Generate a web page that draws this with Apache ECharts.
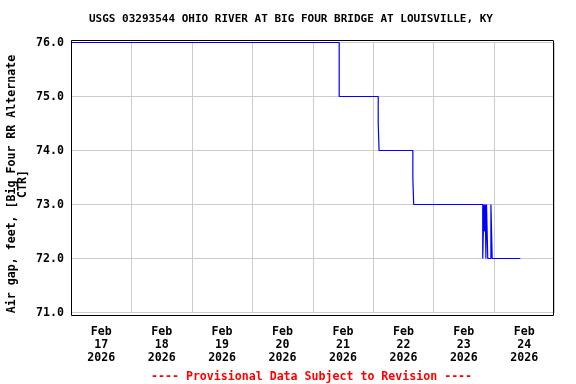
<!DOCTYPE html>
<html>
<head>
<meta charset="utf-8">
<script src="https://cdn.jsdelivr.net/npm/echarts@6/dist/echarts.min.js"></script>
<style>
  html, body { margin: 0; padding: 0; background: #ffffff; }
  #chart { width: 576px; height: 384px; }
</style>
</head>
<body>
<div id="chart"></div>
<script>
// ---- data ----
const titleText = 'USGS 03293544 OHIO RIVER AT BIG FOUR BRIDGE AT LOUISVILLE, KY';
const yAxisTitle = 'Air gap, feet, [Big Four RR Alternate\nCTR]';
const footerText = '---- Provisional Data Subject to Revision ----';

// time of each reading (UTC) and the value that holds from then on
const times = [
  '2026-02-17T00:00:00Z',
  '2026-02-21T10:30:00Z',
  '2026-02-22T02:00:00Z',
  '2026-02-22T02:20:00Z',
  '2026-02-22T15:45:00Z',
  '2026-02-22T16:05:00Z',
  '2026-02-23T19:30:00Z',
  '2026-02-23T19:45:00Z',
  '2026-02-23T20:00:00Z',
  '2026-02-23T20:15:00Z',
  '2026-02-23T20:30:00Z',
  '2026-02-23T20:45:00Z',
  '2026-02-23T21:00:00Z',
  '2026-02-23T21:30:00Z',
  '2026-02-23T22:45:00Z',
  '2026-02-23T23:00:00Z',
  '2026-02-23T23:15:00Z',
  '2026-02-24T10:25:00Z'
];
const values = [
  76.0,
  75.0,
  74.5,
  74.0,
  73.5,
  73.0,
  72.0,
  72.5,
  73.0,
  72.5,
  73.0,
  72.0,
  73.0,
  72.0,
  73.0,
  72.5,
  72.0,
  72.0
];

// x-axis day labels
const labelMonths = ['Feb', 'Feb', 'Feb', 'Feb', 'Feb', 'Feb', 'Feb', 'Feb'];
const labelDays = ['17', '18', '19', '20', '21', '22', '23', '24'];
const labelYears = ['2026', '2026', '2026', '2026', '2026', '2026', '2026', '2026'];

const xStart = '2026-02-17T00:00:00Z';
const xEnd = '2026-02-25T00:00:00Z';
const yMin = 71, yMax = 76, yStep = 1;

// ---- chart ----
const DAY = 86400000;
const FONT = '"DejaVu Sans Mono", "Liberation Mono", monospace';
const dayLabels = labelMonths.map((m, i) => m + '\n' + labelDays[i] + '\n' + labelYears[i]);
const seriesData = times.map((t, i) => [Date.parse(t), values[i]]);

const chart = echarts.init(document.getElementById('chart'), null, { renderer: 'canvas' });
chart.setOption({
  animation: false,
  backgroundColor: '#ffffff',
  title: [
    {
      text: titleText,
      left: 89, top: 14, padding: 0,
      textStyle: { fontFamily: FONT, fontSize: 11, fontWeight: 'bold', color: '#000000' }
    },
    {
      text: footerText,
      left: 151, top: 371, padding: 0,
      textStyle: { fontFamily: FONT, fontSize: 11.6, fontWeight: 'bold', color: '#ff0000' }
    }
  ],
  grid: { left: 71, top: 42.5, width: 483.5, height: 270, containLabel: false },
  xAxis: [
    {
      type: 'value',
      position: 'bottom',
      min: Date.parse(xStart),
      max: Date.parse(xEnd),
      interval: DAY,
      axisLine: { show: false },
      axisTick: { show: false },
      axisLabel: { show: false },
      splitLine: { show: true, lineStyle: { color: '#cccccc', width: 1 } }
    },
    {
      type: 'category',
      position: 'bottom',
      data: dayLabels,
      boundaryGap: true,
      axisLine: { show: false },
      axisTick: { show: false },
      splitLine: { show: false },
      axisLabel: {
        interval: 0,
        margin: 13,
        fontFamily: FONT, fontSize: 11.6, fontWeight: 'bold', color: '#000000',
        lineHeight: 12.8
      }
    }
  ],
  yAxis: {
    type: 'value',
    min: yMin, max: yMax, interval: yStep,
    axisLine: { show: false },
    axisTick: { show: false },
    splitLine: { show: true, lineStyle: { color: '#cccccc', width: 1 } },
    axisLabel: {
      margin: 7,
      fontFamily: FONT, fontSize: 11.6, fontWeight: 'bold', color: '#000000',
      formatter: v => v.toFixed(1)
    }
  },
  graphic: [
    {
      type: 'rect',
      shape: { x: 71.5, y: 40.5, width: 482, height: 275 },
      style: { fill: null, stroke: '#000000', lineWidth: 1 },
      z: 10, silent: true
    },
    {
      type: 'text',
      x: 17.5, y: 184,
      rotation: Math.PI / 2,
      style: {
        text: yAxisTitle,
        fontFamily: FONT, fontSize: 11.6, fontWeight: 'bold', fill: '#000000',
        textAlign: 'center', textVerticalAlign: 'middle', lineHeight: 11.5
      },
      silent: true
    }
  ],
  series: [
    {
      type: 'line',
      xAxisIndex: 0, yAxisIndex: 0,
      step: 'end',
      showSymbol: false, symbol: 'none',
      clip: false,
      lineStyle: { color: '#0000ff', width: 1.2 },
      data: seriesData,
      z: 5
    }
  ]
});
</script>
</body>
</html>
